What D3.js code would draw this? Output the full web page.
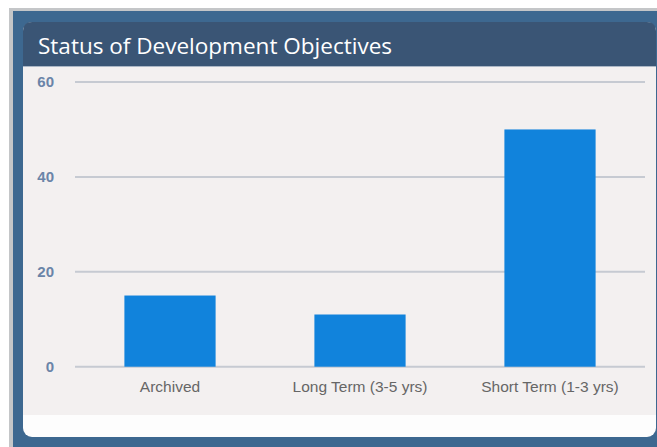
<!DOCTYPE html>
<html><head><meta charset="utf-8">
<script src="https://cdn.jsdelivr.net/npm/d3@7"></script>
<style>body{margin:0;background:#fff;}svg{display:block;}</style>
</head><body>
<script>
const categories = ["Archived", "Long Term (3-5 yrs)", "Short Term (1-3 yrs)"];
const values = [15, 11, 50];
const yTicks = [0, 20, 40, 60];
const title = "Status of Development Objectives";

const W = 657, H = 447;
const svg = d3.select("body").append("svg").attr("width", W).attr("height", H);

// outer frame
svg.append("rect").attr("x", 9).attr("y", 8).attr("width", W - 9).attr("height", H - 8).attr("fill", "#c4c6c8");
svg.append("rect").attr("x", 13).attr("y", 11).attr("width", W - 13).attr("height", H - 11).attr("fill", "#3d6890");

// card
const cx = 23, cy = 22, cw = 633, ch = 415;
svg.append("rect").attr("x", cx).attr("y", cy).attr("width", cw).attr("height", ch).attr("rx", 9).attr("fill", "#fdfdfd");
// title bar
svg.append("path").attr("d", `M${cx},${66} V${cy + 9} Q${cx},${cy} ${cx + 9},${cy} H${cx + cw - 9} Q${cx + cw},${cy} ${cx + cw},${cy + 9} V66 Z`).attr("fill", "#3a5575");
svg.append("rect").attr("x", cx).attr("y", 66).attr("width", cw).attr("height", 2).attr("fill", "#5a7190").attr("opacity", 0.5);
// body
svg.append("rect").attr("x", cx).attr("y", 67).attr("width", cw).attr("height", 348).attr("fill", "#f3f0f0");

svg.append("text").attr("x", 38).attr("y", 54).text(title)
  .attr("fill", "#ffffff").attr("font-family", "'Open Sans', sans-serif").attr("font-size", 22.5)
  .attr("textLength", 354).attr("lengthAdjust", "spacingAndGlyphs");

const x = d3.scaleBand().domain(categories).range([75, 645]).paddingInner(0.52).paddingOuter(0.26);
const y = d3.scaleLinear().domain([0, 60]).range([366.7, 82]);

// grid
svg.append("g").selectAll("line").data(yTicks).join("line")
  .attr("x1", 75).attr("x2", 645).attr("y1", d => y(d)).attr("y2", d => y(d))
  .attr("stroke", "#c6cad2").attr("stroke-width", 2);

// y labels
svg.append("g").selectAll("text").data(yTicks).join("text")
  .attr("x", 54).attr("y", d => y(d)).attr("dy", "0.35em").attr("text-anchor", "end")
  .attr("font-family", "'Liberation Sans', Arial, sans-serif").attr("font-size", 15).attr("font-weight", "bold")
  .attr("fill", "#6a84a8").text(d => d);

// bars
svg.append("g").selectAll("rect").data(values).join("rect")
  .attr("x", (d, i) => x(categories[i])).attr("width", x.bandwidth())
  .attr("y", d => y(d)).attr("height", d => y(0) - y(d)).attr("fill", "#1183dc");

// x labels
svg.append("g").selectAll("text").data(categories).join("text")
  .attr("x", d => x(d) + x.bandwidth() / 2).attr("y", 392).attr("text-anchor", "middle")
  .attr("font-family", "'Liberation Sans', Arial, sans-serif").attr("font-size", 15.5)
  .attr("fill", "#666666").text(d => d);
</script>
</body></html>
